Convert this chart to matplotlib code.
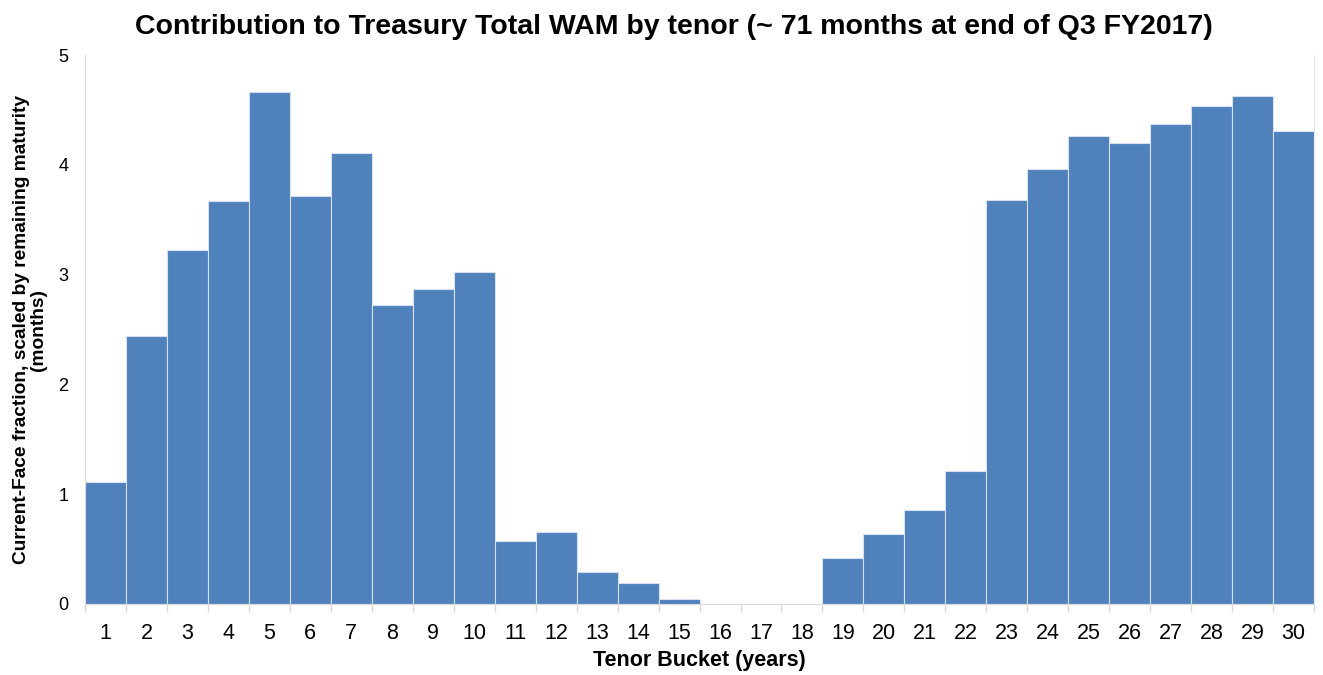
import numpy as np
from matplotlib import pyplot as plt

plt.rcParams['font.family'] = ['Liberation Sans', 'DejaVu Sans']

# tenor buckets (years) and contribution to WAM (months)
tenors = list(range(1, 31))
contrib = [1.11, 2.44, 3.22, 3.67, 4.66, 3.72, 4.11, 2.72, 2.87, 3.02,
           0.57, 0.66, 0.29, 0.19, 0.05, 0.0, 0.0, 0.0, 0.42, 0.64,
           0.86, 1.21, 3.68, 3.96, 4.26, 4.20, 4.37, 4.54, 4.63, 4.31]

fig = plt.figure(figsize=(13.23, 6.75), dpi=100)
ax = fig.add_axes([0.0643, 0.1052, 0.9289, 0.8133])

ax.bar(tenors, contrib, width=1.0, color='#4F81BD', edgecolor='#d6e0ee', linewidth=0.8)

ax.set_xlim(0.5, 30.5)
ax.set_ylim(0, 5)
ax.set_yticks(range(0, 6))
ax.set_xticks(tenors)
ax.set_xticks(np.arange(0.5, 31, 1), minor=True)
ax.tick_params(axis='x', which='major', length=0, labelsize=15.5, pad=14, colors='black')
ax.tick_params(axis='x', which='minor', length=6, color='#d9d9d9', width=1)
ax.tick_params(axis='y', length=0, labelsize=13, pad=12)

ax.spines['top'].set_visible(False)
ax.spines['left'].set_color('#d9d9d9')
ax.spines['right'].set_color('#e6e6e6')
ax.spines['bottom'].set_color('#d9d9d9')

# title sits centred on the figure, not on the plot area
ax.set_title('Contribution to Treasury Total WAM by tenor (~ 71 months at end of Q3 FY2017)',
             fontsize=20.5, fontweight='bold', pad=15, x=0.479)
ax.set_xlabel('Tenor Bucket (years)', fontsize=15.5, fontweight='bold', labelpad=4)
ax.set_ylabel('Current-Face fraction, scaled by remaining maturity\n(months)',
              fontsize=13.75, fontweight='bold', labelpad=8, linespacing=1.0)

fig.savefig('out.png', dpi=100)
